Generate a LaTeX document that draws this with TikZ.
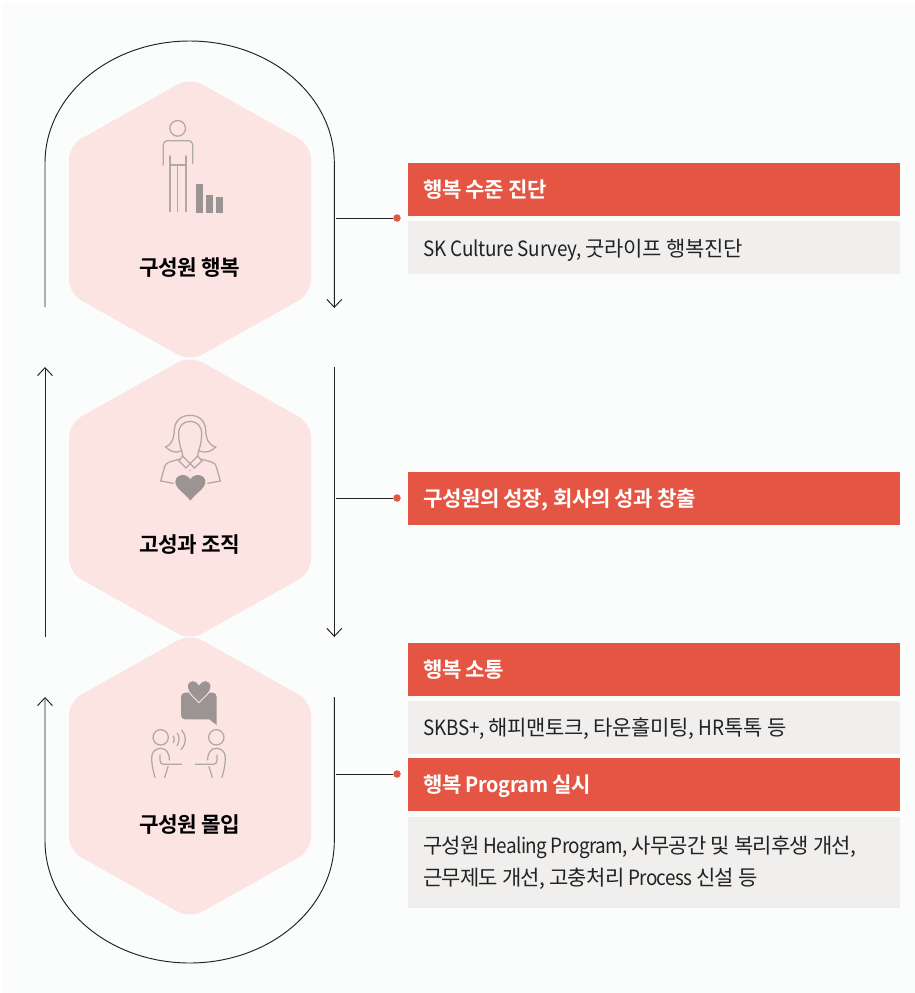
\documentclass[tikz,border=0pt]{standalone}
\usepackage{fontspec}
\usetikzlibrary{arrows.meta}
\newfontfamily\krbody[LetterSpace=-3.5]{Noto Sans CJK KR}
\newfontfamily\krwide[LetterSpace=-1.7]{Noto Sans CJK KR}
\newfontfamily\krlatin[LetterSpace=-3,FakeStretch=0.9]{Noto Sans CJK KR}
\newfontfamily\krlatinwide[LetterSpace=-1.2,FakeStretch=0.9]{Noto Sans CJK KR}
\newfontfamily\krhead[LetterSpace=-2]{Noto Sans CJK KR Bold}
\newfontfamily\krheadlatin[LetterSpace=-2,FakeStretch=0.94]{Noto Sans CJK KR Bold}
\newcommand{\lat}[1]{{\krlatin #1}}
\newcommand{\latw}[1]{{\krlatinwide #1}}
\newcommand{\hlat}[1]{{\krheadlatin #1}}
\definecolor{bgtint}{HTML}{FBFDFC}
\definecolor{hexpink}{HTML}{FCE4E2}
\definecolor{redbar}{HTML}{E45643}
\definecolor{greybar}{HTML}{F0EFEE}
\definecolor{iconline}{HTML}{B0A8A6}
\definecolor{iconfill}{HTML}{9C9492}
\definecolor{flowline}{HTML}{222222}
\newcommand{\hexat}[2]{% top tip y, bottom tip y
  \fill[hexpink,rounded corners=14pt] (190,#1-3.5) -- (311,#1+64.5) -- (311,#2-64.5) -- (190,#2+3.5) -- (69,#2-64.5) -- (69,#1+64.5) -- cycle;}
\tikzset{
  x=1pt,y=-1pt,
  flow/.style={draw=flowline,line width=0.95pt},
  flowarrow/.style={flow,-{Straight Barb[length=8pt,width=15pt,line width=0.95pt]}},
  tick/.style={draw=flowline,line width=0.95pt},
  dotmark/.style={circle,fill=redbar,inner sep=0pt,minimum size=7.5pt},
  redbox/.style={fill=redbar,inner sep=0pt,minimum width=492pt,anchor=north west},
  greybox/.style={fill=greybar,inner sep=0pt,minimum width=492pt,anchor=north west},
  headtxt/.style={text=white,inner sep=0pt,anchor=base west,font=\krhead\fontsize{21.1}{24}\selectfont},
  bodytxt/.style={text=flowline,inner sep=0pt,anchor=base west,font=\krbody\fontsize{21}{32}\selectfont},
  bodywide/.style={bodytxt,font=\krwide\fontsize{21}{32}\selectfont},
  hexlabel/.style={text=black,inner sep=0pt,anchor=base,font=\krhead\fontsize{21.3}{24}\selectfont},
  icon/.style={draw=iconline,line width=1.25pt,line cap=round},
  iconsolid/.style={fill=iconfill},
}
\begin{document}
\begin{tikzpicture}
\useasboundingbox (0,0) rectangle (915,993);
\fill[bgtint] (3,3) rectangle (915,993);
% hexagons
\hexat{81}{358}
\hexat{359}{637}
\hexat{637}{915}
% flow lines
\coordinate (topstart) at (45,307);
\coordinate (topend) at (334.3,308);
\coordinate (midRstart) at (334.3,367);
\coordinate (midRend) at (334.3,637);
\coordinate (midLstart) at (45,637);
\coordinate (midLend) at (45,367);
\coordinate (botstart) at (334.3,697);
\coordinate (botend) at (45,697);
\draw[flowarrow] (topstart) -- (45,163) arc[start angle=180,end angle=0,x radius=144.65pt,y radius=122pt] -- (topend);
\draw[flowarrow] (midRstart) -- (midRend);
\draw[flowarrow] (midLstart) -- (midLend);
\draw[flowarrow] (botstart) -- (334.3,841) arc[start angle=0,end angle=-180,x radius=144.65pt,y radius=122pt] -- (botend);
% boxes
\node[redbox,minimum height=53pt] (b1) at (408,163) {};
\node[greybox,minimum height=53pt] (b2) at (408,221) {};
\node[redbox,minimum height=53pt] (b3) at (408,472) {};
\node[redbox,minimum height=53pt] (b4) at (408,643) {};
\node[greybox,minimum height=53pt] (b5) at (408,701) {};
\node[redbox,minimum height=53pt] (b6) at (408,758) {};
\node[greybox,minimum height=91pt] (b7) at (408,817) {};
% connectors
\coordinate (t1) at (336,218);
\coordinate (t2) at (336,498);
\coordinate (t3) at (336,774);
\node[dotmark] (d1) at (397,218) {};
\node[dotmark] (d2) at (397,498) {};
\node[dotmark] (d3) at (397,774) {};
\draw[tick] (t1) -- (d1);
\draw[tick] (t2) -- (d2);
\draw[tick] (t3) -- (d3);
% box texts
\node[headtxt] (h1) at (423,197) {행복 수준 진단};
\node[bodywide] (s1) at (423,256) {\latw{SK Culture Survey,} 굿라이프 행복진단};
\node[headtxt] (h2) at (423,506) {구성원의 성장, 회사의 성과 창출};
\node[headtxt] (h3) at (423,677) {행복 소통};
\node[bodywide] (s3) at (423,735) {\latw{SKBS+,} 해피맨토크, 타운홀미팅, \latw{HR}톡톡 등};
\node[headtxt] (h4) at (423,792) {행복 \hlat{Program} 실시};
\node[bodytxt] (s4a) at (423,853) {구성원 \lat{Healing Program,} 사무공간 및 복리후생 개선,};
\node[bodytxt] (s4b) at (423,885) {근무제도 개선, 고충처리 \lat{Process} 신설 등};
% hex labels
\node[hexlabel] (l1) at (190,275) {구성원 행복};
\node[hexlabel] (l2) at (190,552) {고성과 조직};
\node[hexlabel] (l3) at (190,832) {구성원 몰입};
% icon: person with bars
\begin{scope}[shift={(140,110)},scale=1/3]
  \draw[icon] (113,55) circle[radius=23.5pt];
  \draw[icon,rounded corners=4pt] (70,165) -- (70,92) -- (158,92) -- (158,160);
  \draw[icon] (90,138) -- (90,305);
  \draw[icon] (138,138) -- (138,305);
  \draw[icon] (113,165) -- (113,305);
  \draw[icon] (90,165) -- (138,165);
  \fill[iconsolid] (168,222) rectangle (189,309);
  \fill[iconsolid] (198,255) rectangle (219,309);
  \fill[iconsolid] (228,261) rectangle (249,309);
\end{scope}
% icon: woman with heart
\begin{scope}[shift={(130,400)},scale=1/3]
  \draw[icon] (152,153) .. controls (140,160) and (120,155) .. (107,141)
     .. controls (125,135) and (132,115) .. (133,90)
     .. controls (135,60) and (155,46) .. (180,46)
     .. controls (205,46) and (225,60) .. (227,90)
     .. controls (228,115) and (235,135) .. (257,141)
     .. controls (245,155) and (225,160) .. (208,153);
  \draw[icon] (158,168) -- (156,155) .. controls (148,135) and (146,115) .. (146,100)
     .. controls (146,78) and (160,64) .. (180,64)
     .. controls (200,64) and (215,78) .. (215,100)
     .. controls (215,115) and (213,135) .. (205,155) -- (203,168);
  \draw[icon] (158,168) -- (147,183) -- (168,204) -- (203,168) -- (216,183) -- (193,204) -- (158,168);
  \draw[icon] (150,177) .. controls (120,186) and (108,186) .. (104,200) -- (92,243) -- (130,250);
  \draw[icon] (213,177) .. controls (243,186) and (255,186) .. (259,200) -- (271,243) -- (233,250);
  \fill[iconsolid] (180,211) circle[radius=2pt];
  \fill[iconsolid] (181,302) .. controls (165,280) and (136,265) .. (136,246)
     .. controls (136,222) and (170,218) .. (181,238)
     .. controls (192,218) and (226,222) .. (226,246)
     .. controls (226,265) and (197,280) .. (181,302) -- cycle;
\end{scope}
% icon: two people talking
\begin{scope}[shift={(130,670)},scale=1/3]
  \fill[iconsolid,rounded corners=4pt] (153,68) -- (260,68) -- (260,140) [sharp corners] -- (260,165) -- (238,148) [rounded corners=4pt] -- (153,148) -- cycle;
  \draw[iconsolid,draw=hexpink,line width=0.9pt] (207,98) .. controls (195,85) and (172,68) .. (172,50)
     .. controls (172,26) and (200,28) .. (207,44)
     .. controls (214,28) and (243,26) .. (243,50)
     .. controls (243,68) and (219,85) .. (207,98) -- cycle;
  \draw[icon] (92,202) circle[radius=23pt];
  \draw[icon] (259,202) circle[radius=23pt];
  \draw[icon] (130,198) .. controls (134,205) and (134,212) .. (130,218);
  \draw[icon] (142,189) .. controls (149,200) and (149,216) .. (141,227);
  \draw[icon] (155,180) .. controls (170,195) and (170,222) .. (153,238);
  \draw[icon] (75,322) .. controls (68,300) and (65,280) .. (65,262)
     .. controls (65,245) and (78,235) .. (92,235)
     .. controls (108,235) and (118,248) .. (118,270);
  \draw[icon] (90,255) -- (90,270) .. controls (90,279) and (94,283) .. (102,283) -- (155,283);
  \draw[icon] (104,322) -- (114,290);
  \draw[icon] (276,322) .. controls (283,300) and (286,280) .. (286,262)
     .. controls (286,245) and (273,235) .. (259,235)
     .. controls (243,235) and (233,248) .. (233,270);
  \draw[icon] (261,255) -- (261,270) .. controls (261,279) and (257,283) .. (249,283) -- (196,283);
  \draw[icon] (247,322) -- (237,290);
\end{scope}
\end{tikzpicture}
\end{document}
